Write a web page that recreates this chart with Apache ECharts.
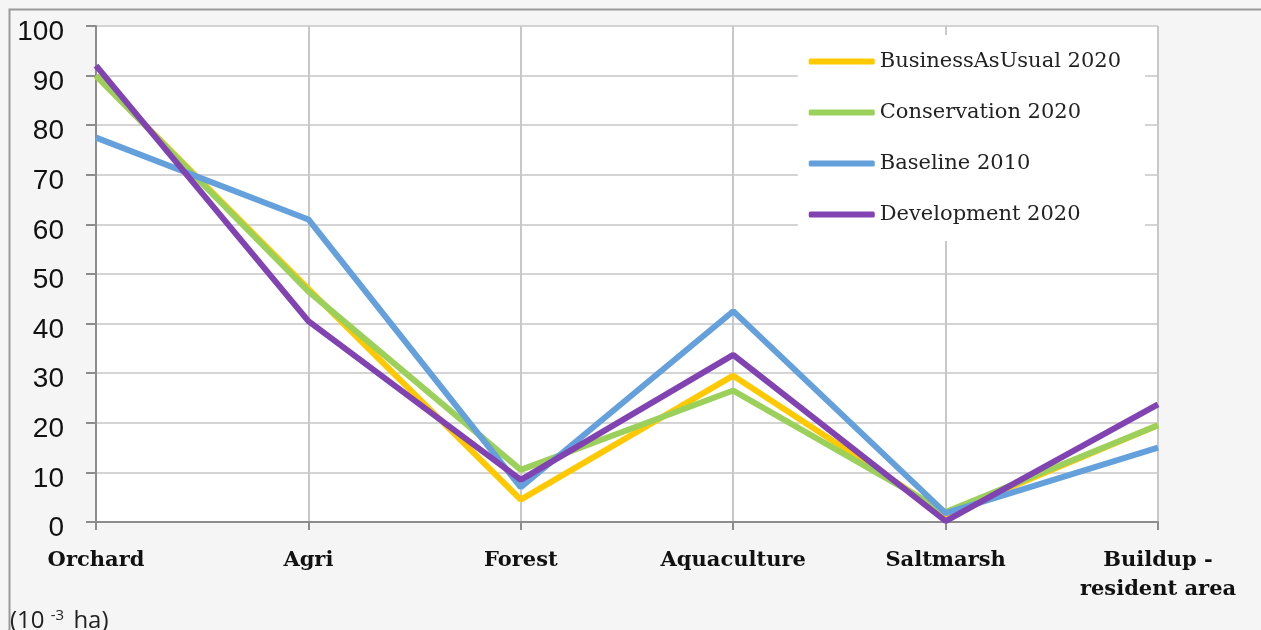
<!DOCTYPE html>
<html>
<head>
<meta charset="utf-8">
<script src="https://cdn.jsdelivr.net/npm/echarts@6/dist/echarts.min.js"></script>
<style>
  html, body { margin: 0; padding: 0; background: #f5f5f5; }
  #chart { width: 1261px; height: 630px; }
</style>
</head>
<body>
<div id="chart"></div>
<script>
// Land-use categories along the x axis
const categories = ['Orchard', 'Agri', 'Forest', 'Aquaculture', 'Saltmarsh', 'Buildup -\nresident area'];

// Area per scenario (10^-3 ha)
const businessAsUsual2020 = [90, 47, 4.5, 29.5, 1.5, 19.5];
const conservation2020    = [90, 46.5, 10.5, 26.5, 2, 19.5];
const baseline2010        = [77.5, 61, 7, 42.5, 1.8, 15];
const development2020     = [92, 40.5, 8.5, 33.7, 0.2, 23.7];

const seriesNames = ['BusinessAsUsual 2020', 'Conservation 2020', 'Baseline 2010', 'Development 2020'];
const seriesData = [businessAsUsual2020, conservation2020, baseline2010, development2020];
const seriesColors = ['#FFC900', '#9BD15A', '#63A0DC', '#8243B2'];

const yTicks = { min: 0, max: 100, interval: 10 };

const chart = echarts.init(document.getElementById('chart'), null, { renderer: 'canvas' });

chart.setOption({
  backgroundColor: '#f5f5f5',
  animation: false,
  color: seriesColors,
  graphic: [
    {
      type: 'rect',
      z: -10,
      shape: { x: 9.5, y: 9.5, width: 1400, height: 800 },
      style: { fill: '#f5f5f5', stroke: '#9a9a9a', lineWidth: 2 }
    },
    {
      type: 'rect',
      z: -5,
      shape: { x: 96, y: 26, width: 1062, height: 496 },
      style: { fill: '#ffffff' }
    },
    {
      type: 'text',
      left: 10,
      top: 608,
      style: {
        text: '{a|(10 }{s|-3}{a| ha)}',
        fontFamily: 'Open Sans',
        fontSize: 24,
        fill: '#222',
        rich: {
          a: { fontFamily: 'Open Sans', fontSize: 24, fill: '#222' },
          s: { fontFamily: 'Open Sans', fontSize: 15, fill: '#222', verticalAlign: 'top', padding: [0, 3, 11, 0] }
        }
      }
    }
  ],
  grid: { left: 96, right: 103, top: 26, bottom: 108, containLabel: false },
  legend: {
    orient: 'vertical',
    right: 116,
    top: 35,
    backgroundColor: '#ffffff',
    padding: [16, 24, 16, 11],
    itemGap: 30,
    itemWidth: 66,
    itemHeight: 6,
    icon: 'roundRect',
    textStyle: { fontFamily: 'DejaVu Serif', fontSize: 21, color: '#222' },
    data: seriesNames
  },
  xAxis: {
    type: 'category',
    boundaryGap: false,
    data: categories,
    axisLine: { lineStyle: { color: '#8c8c8c', width: 2 } },
    axisTick: { show: true, length: 8, lineStyle: { color: '#8c8c8c', width: 2 } },
    axisLabel: {
      margin: 24,
      fontFamily: 'DejaVu Serif',
      fontWeight: 'bold',
      fontSize: 21,
      lineHeight: 29,
      color: '#111',
      interval: 0
    },
    splitLine: { show: true, lineStyle: { color: '#c8c8c8', width: 2 } }
  },
  yAxis: {
    type: 'value',
    min: yTicks.min,
    max: yTicks.max,
    interval: yTicks.interval,
    axisLine: { show: true, lineStyle: { color: '#8c8c8c', width: 2 } },
    axisTick: { show: true, length: 10, lineStyle: { color: '#8c8c8c', width: 2 } },
    axisLabel: {
      margin: 32,
      formatter: '{v|{value}}',
      rich: {
        v: { fontFamily: 'Liberation Sans', fontSize: 28, color: '#111', padding: [13, 0, 0, 0] }
      }
    },
    splitLine: { show: true, lineStyle: { color: '#d4d4d4', width: 2 } }
  },
  series: seriesNames.map((name, i) => ({
    name,
    type: 'line',
    data: seriesData[i],
    symbol: 'none',
    lineStyle: { width: 6, color: seriesColors[i] },
    itemStyle: { color: seriesColors[i] }
  }))
});
</script>
</body>
</html>
